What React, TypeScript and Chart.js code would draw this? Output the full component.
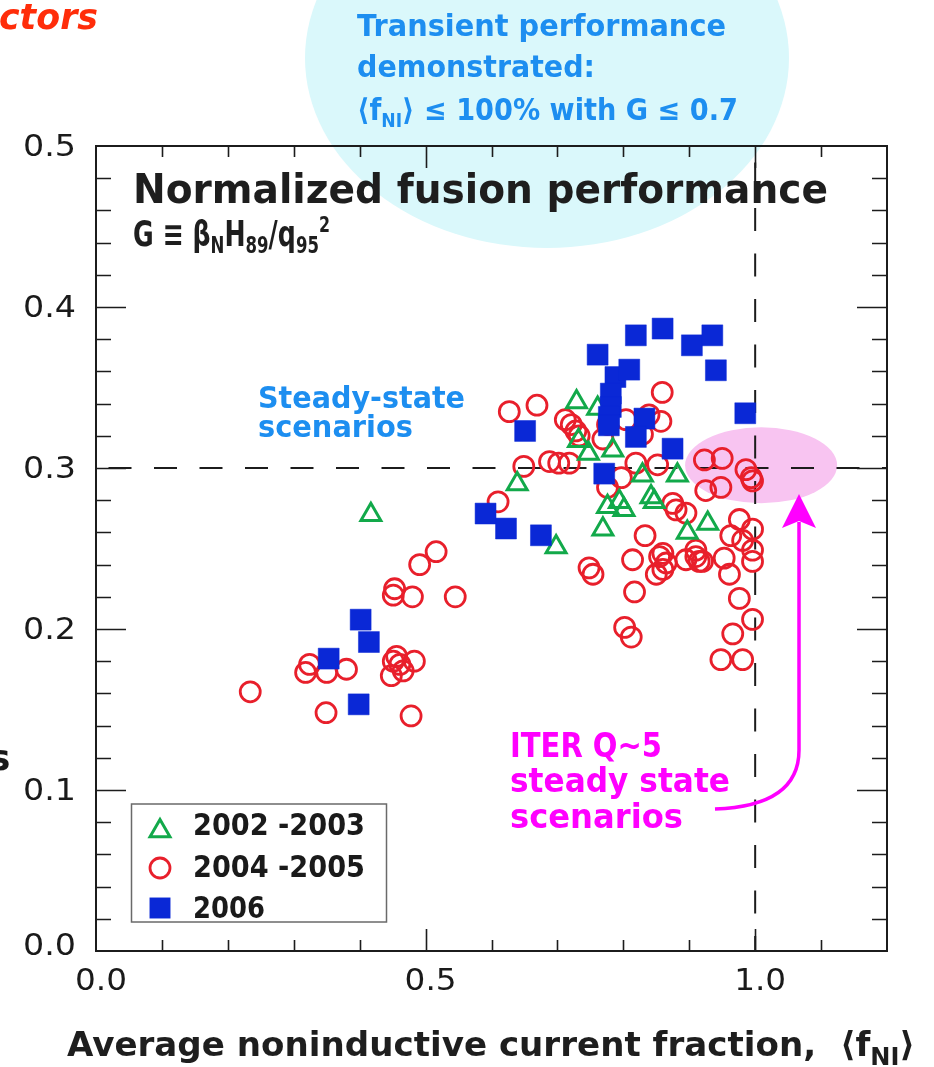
import React, { useEffect, useRef } from 'react';
import { Chart, registerables } from 'chart.js';

Chart.register(...registerables);

// ---------------- data ----------------
const seriesLabels = ['2002 -2003', '2004 -2005', '2006'];

const x2002 = [0.417, 0.639, 0.698, 0.729, 0.732, 0.747, 0.761, 0.784, 0.769, 0.776, 0.794, 0.801, 0.829, 0.842, 0.847, 0.882, 0.897, 0.928];
const y2002 = [0.271, 0.290, 0.251, 0.341, 0.317, 0.309, 0.337, 0.311, 0.262, 0.276, 0.279, 0.274, 0.2955, 0.282, 0.279, 0.2955, 0.260, 0.2655];

const x2004 = [0.234, 0.318, 0.324, 0.350, 0.380, 0.349, 0.478, 0.451, 0.461, 0.466, 0.448, 0.483, 0.456, 0.516, 0.491, 0.453, 0.451, 0.480, 0.545,
  0.610, 0.627, 0.669, 0.712, 0.721, 0.728, 0.733, 0.649, 0.688, 0.702, 0.718, 0.776, 0.797, 0.819, 0.852, 0.859, 0.776, 0.804, 0.839, 0.857, 0.829, 0.769,
  0.748, 0.754, 0.875, 0.880, 0.895, 0.833, 0.814, 0.855, 0.865, 0.850, 0.860, 0.895, 0.910, 0.915, 0.817, 0.802, 0.812, 0.860,
  0.923, 0.950, 0.986, 0.994, 0.996, 0.925, 0.948, 0.976, 0.996, 0.963, 0.981, 0.996, 0.996, 0.910, 0.920, 0.953, 0.961, 0.976, 0.996, 0.966, 0.948, 0.981];
const y2004 = [0.161, 0.173, 0.178, 0.173, 0.175, 0.148, 0.146, 0.180, 0.178, 0.174, 0.171, 0.180, 0.183, 0.248, 0.240, 0.225, 0.221, 0.220, 0.220,
  0.279, 0.335, 0.339, 0.330, 0.327, 0.323, 0.320, 0.301, 0.304, 0.303, 0.303, 0.288, 0.294, 0.303, 0.302, 0.347, 0.327, 0.330, 0.333, 0.329, 0.321, 0.318,
  0.238, 0.234, 0.278, 0.274, 0.272, 0.258, 0.243, 0.245, 0.241, 0.234, 0.237, 0.243, 0.245, 0.242, 0.223, 0.201, 0.195, 0.247,
  0.305, 0.306, 0.299, 0.294, 0.292, 0.286, 0.288, 0.268, 0.262, 0.258, 0.255, 0.249, 0.242, 0.249, 0.242, 0.244, 0.234, 0.219, 0.206, 0.197, 0.181, 0.181];

const x2006 = [0.353, 0.4015, 0.414, 0.3985, 0.591, 0.622, 0.675, 0.651, 0.761, 0.788, 0.809, 0.819, 0.8596, 0.904, 0.935, 0.9404,
  0.781, 0.781, 0.778, 0.778, 0.832, 0.819, 0.8747, 0.771, 0.985];
const y2006 = [0.1816, 0.2058, 0.1919, 0.1532, 0.2717, 0.2624, 0.2582, 0.323, 0.3704, 0.3565, 0.3611, 0.3824, 0.3866, 0.3762, 0.3824, 0.3607,
  0.3462, 0.3379, 0.3317, 0.3265, 0.3307, 0.3193, 0.312, 0.2965, 0.334];

const xTickValues = [0.0, 0.5, 1.0];
const xTickLabels = ['0.0', '0.5', '1.0'];
const yTickValues = [0.0, 0.1, 0.2, 0.3, 0.4, 0.5];
const yTickLabels = ['0.0', '0.1', '0.2', '0.3', '0.4', '0.5'];
const xMinorStep = 0.1;
const yMinorStep = 0.02;
const xMajorMarks = [0.5, 1.0];
const refLineX = 1.0;
const refLineY = 0.3;

// ---------------- styles ----------------
const GREEN = '#12a94a';
const RED = '#e81f2b';
const BLUE = '#0a28d6';
const AXIS = '#1c1c1c';
const SKY = '#1d8ef0';
const MAGENTA = '#ff00ff';
const FONT = '"DejaVu Sans", sans-serif';

type Seg = { t: string; s: number; dy?: number };

function drawRich(ctx: CanvasRenderingContext2D, segs: Seg[], x: number, y: number, width: number | null, color: string, weight = 'bold', family = FONT, style = '') {
  let total = 0;
  const ws = segs.map((g) => {
    ctx.font = `${style} ${weight} ${g.s}px ${family}`;
    const w = ctx.measureText(g.t).width;
    total += w;
    return w;
  });
  const k = width ? width / total : 1;
  ctx.save();
  ctx.translate(x, y);
  ctx.scale(k, 1);
  ctx.fillStyle = color;
  ctx.textAlign = 'left';
  ctx.textBaseline = 'alphabetic';
  let cx = 0;
  segs.forEach((g, i) => {
    ctx.font = `${style} ${weight} ${g.s}px ${family}`;
    ctx.fillText(g.t, cx, g.dy || 0);
    cx += ws[i];
  });
  ctx.restore();
}

function pts(xs: number[], ys: number[]) {
  return xs.map((x, i) => ({ x, y: ys[i] }));
}

const decoPlugin = {
  id: 'deco',
  beforeDraw(chart: any) {
    const { ctx, chartArea: a, scales } = chart;
    const xs = scales.x;
    const ys = scales.y;
    ctx.save();
    ctx.fillStyle = '#ffffff';
    ctx.fillRect(0, 0, chart.width, chart.height);

    // cyan ellipse (top callout)
    ctx.fillStyle = '#daf8fb';
    ctx.beginPath();
    ctx.ellipse(547, 58, 242, 190, 0, 0, Math.PI * 2);
    ctx.fill();

    // pink ellipse (ITER target)
    const pcx = xs.getPixelForValue(1.009);
    const pcy = ys.getPixelForValue(0.3017);
    ctx.fillStyle = '#f8c4f1';
    ctx.beginPath();
    ctx.ellipse(pcx, pcy, 76, 38, 0, 0, Math.PI * 2);
    ctx.fill();

    // dashed reference lines
    ctx.strokeStyle = AXIS;
    ctx.lineWidth = 2;
    ctx.setLineDash([23, 22.5]);
    const hy = ys.getPixelForValue(refLineY);
    ctx.lineDashOffset = 33;
    ctx.beginPath();
    ctx.moveTo(a.left, hy);
    ctx.lineTo(a.right, hy);
    ctx.stroke();
    const vx = xs.getPixelForValue(refLineX);
    ctx.lineDashOffset = 29;
    ctx.beginPath();
    ctx.moveTo(vx, a.top);
    ctx.lineTo(vx, a.bottom);
    ctx.stroke();
    ctx.setLineDash([]);

    // axes box
    ctx.lineWidth = 2;
    ctx.strokeStyle = AXIS;
    ctx.strokeRect(a.left, a.top, a.right - a.left, a.bottom - a.top);

    // x ticks (bottom & top, inward)
    ctx.lineWidth = 1.6;
    ctx.beginPath();
    for (let v = xMinorStep; v < xs.max - 1e-6; v += xMinorStep) {
      const px = Math.round(xs.getPixelForValue(v)) + 0.5;
      const major = xMajorMarks.some((m) => Math.abs(m - v) < 1e-6);
      const len = major ? 22 : 11;
      ctx.moveTo(px, a.bottom);
      ctx.lineTo(px, a.bottom - len);
      ctx.moveTo(px, a.top);
      ctx.lineTo(px, a.top + len);
    }
    // y ticks (left & right, inward)
    for (let v = yMinorStep; v < ys.max - 1e-6; v += yMinorStep) {
      const py = Math.round(ys.getPixelForValue(v)) + 0.5;
      const major = Math.round(v * 100) % 10 === 0;
      const len = major ? 30 : 15;
      ctx.moveTo(a.left, py);
      ctx.lineTo(a.left + len, py);
      ctx.moveTo(a.right, py);
      ctx.lineTo(a.right - len, py);
    }
    ctx.stroke();

    // tick labels
    yTickValues.forEach((v, i) => {
      const py = ys.getPixelForValue(v) + (v === 0 ? 4 : 10);
      drawRich(ctx, [{ t: yTickLabels[i], s: 30 }], 23, py, 53, '#1a1a1a', 'normal');
    });
    xTickValues.forEach((v, i) => {
      const px = xs.getPixelForValue(v) + 5;
      drawRich(ctx, [{ t: xTickLabels[i], s: 30 }], px - 26, 990, 52, '#1a1a1a', 'normal');
    });
    ctx.restore();
  },
  afterDatasetsDraw(chart: any) {
    const { ctx } = chart;
    ctx.save();
    // ITER arrow
    ctx.strokeStyle = MAGENTA;
    ctx.fillStyle = MAGENTA;
    ctx.lineWidth = 3.5;
    ctx.beginPath();
    ctx.moveTo(715, 809);
    ctx.quadraticCurveTo(799, 806, 799, 750);
    ctx.lineTo(799, 522);
    ctx.stroke();
    ctx.beginPath();
    ctx.moveTo(799, 494);
    ctx.lineTo(816, 528);
    ctx.lineTo(799, 521);
    ctx.lineTo(782, 528);
    ctx.closePath();
    ctx.fill();

    // texts
    drawRich(ctx, [{ t: 'ctors', s: 36 }], -1, 29, 99, '#ff2d0a', 'bold', FONT, 'italic');
    drawRich(ctx, [{ t: 's', s: 36 }], -11, 770, null, '#1a1a1a');

    drawRich(ctx, [{ t: 'Transient performance', s: 30 }], 357, 36, 369, SKY);
    drawRich(ctx, [{ t: 'demonstrated:', s: 30 }], 357, 77, 238, SKY);
    drawRich(ctx, [{ t: '\u27E8f', s: 30 }, { t: 'NI', s: 19, dy: 7 }, { t: '\u27E9 \u2264 100% with G \u2264 0.7', s: 30 }], 357, 120, 381, SKY);

    drawRich(ctx, [{ t: 'Normalized fusion performance', s: 40 }], 133, 203, 695, '#1e1e1e');
    drawRich(ctx, [
      { t: 'G \u2261 \u03B2', s: 35 }, { t: 'N', s: 23, dy: 7 }, { t: 'H', s: 35 }, { t: '89', s: 23, dy: 7 },
      { t: '/q', s: 35 }, { t: '95', s: 23, dy: 7 }, { t: '2', s: 22, dy: -14 },
    ], 133, 246, 197, '#1e1e1e');

    drawRich(ctx, [{ t: 'Steady-state', s: 30 }], 258, 408, 207, SKY);
    drawRich(ctx, [{ t: 'scenarios', s: 30 }], 258, 437, 155, SKY);

    drawRich(ctx, [{ t: 'ITER Q~5', s: 34 }], 510, 757, 152, MAGENTA);
    drawRich(ctx, [{ t: 'steady state', s: 34 }], 510, 792, 220, MAGENTA);
    drawRich(ctx, [{ t: 'scenarios', s: 34 }], 510, 828, 173, MAGENTA);

    drawRich(ctx, [{ t: 'Average noninductive current fraction,  \u27E8f', s: 34 }, { t: 'NI', s: 24, dy: 9 }, { t: '\u27E9', s: 34 }], 67, 1056, 848, '#1e1e1e');

    // legend box
    ctx.lineWidth = 1.5;
    ctx.strokeStyle = '#6a6a6a';
    ctx.fillStyle = '#ffffff';
    ctx.fillRect(131.5, 804, 255, 118);
    ctx.strokeRect(131.5, 804, 255, 118);
    const ds = chart.data.datasets;
    const rows = [
      { label: seriesLabels[0], y: 831, base: 835, w: 172 },
      { label: seriesLabels[1], y: 868, base: 877, w: 172 },
      { label: seriesLabels[2], y: 908, base: 918, w: 72 },
    ];
    rows.forEach((r) => {
      const d = ds.find((q: any) => q.label === r.label);
      const cx = 160;
      ctx.save();
      ctx.lineWidth = d.borderWidth;
      ctx.strokeStyle = d.borderColor;
      ctx.fillStyle = d.backgroundColor;
      const rad = d.pointRadius;
      ctx.beginPath();
      if (d.pointStyle === 'triangle') {
        ctx.moveTo(cx, r.y - rad);
        ctx.lineTo(cx + rad * Math.sin((2 * Math.PI) / 3), r.y - rad * Math.cos((2 * Math.PI) / 3));
        ctx.lineTo(cx + rad * Math.sin((4 * Math.PI) / 3), r.y - rad * Math.cos((4 * Math.PI) / 3));
        ctx.closePath();
        ctx.stroke();
      } else if (d.pointStyle === 'circle') {
        ctx.arc(cx, r.y, rad, 0, Math.PI * 2);
        ctx.stroke();
      } else {
        const s = Math.SQRT1_2 * rad;
        ctx.rect(cx - s, r.y - s, 2 * s, 2 * s);
        ctx.fill();
      }
      ctx.restore();
      drawRich(ctx, [{ t: r.label, s: 30 }], 193, r.base, r.w, '#1a1a1a');
    });
    ctx.restore();
  },
};

export default function App() {
  const ref = useRef<HTMLCanvasElement | null>(null);
  useEffect(() => {
    if (!ref.current) return;
    const chart = new Chart(ref.current, {
      type: 'scatter',
      data: {
        datasets: [
          {
            label: seriesLabels[2],
            data: pts(x2006, y2006),
            pointStyle: 'rect',
            pointRadius: 14.8,
            backgroundColor: BLUE,
            borderColor: BLUE,
            borderWidth: 0.5,
            order: 0,
          },
          {
            label: seriesLabels[0],
            data: pts(x2002, y2002),
            pointStyle: 'triangle',
            pointRadius: 11.5,
            backgroundColor: 'rgba(0,0,0,0)',
            borderColor: GREEN,
            borderWidth: 3,
            order: 1,
          },
          {
            label: seriesLabels[1],
            data: pts(x2004, y2004),
            pointStyle: 'circle',
            pointRadius: 10,
            backgroundColor: 'rgba(0,0,0,0)',
            borderColor: RED,
            borderWidth: 2.8,
            order: 2,
          },
        ] as any,
      },
      options: {
        animation: false,
        responsive: false,
        events: [],
        layout: { padding: { left: 96, top: 146, right: 934 - 887, bottom: 1067 - 951 } },
        plugins: { legend: { display: false }, tooltip: { enabled: false } },
        scales: {
          x: { type: 'linear', min: 0, max: 1.2, display: false },
          y: { type: 'linear', min: 0, max: 0.5, display: false },
        },
      } as any,
      plugins: [decoPlugin],
    });
    return () => chart.destroy();
  }, []);
  return (
    <div style={{ position: 'absolute', left: 0, top: 0, width: 934, height: 1067, overflow: 'hidden', background: '#fff' }}>
      <canvas ref={ref} width={934} height={1067} style={{ display: 'block', width: 934, height: 1067 }} />
    </div>
  );
}
